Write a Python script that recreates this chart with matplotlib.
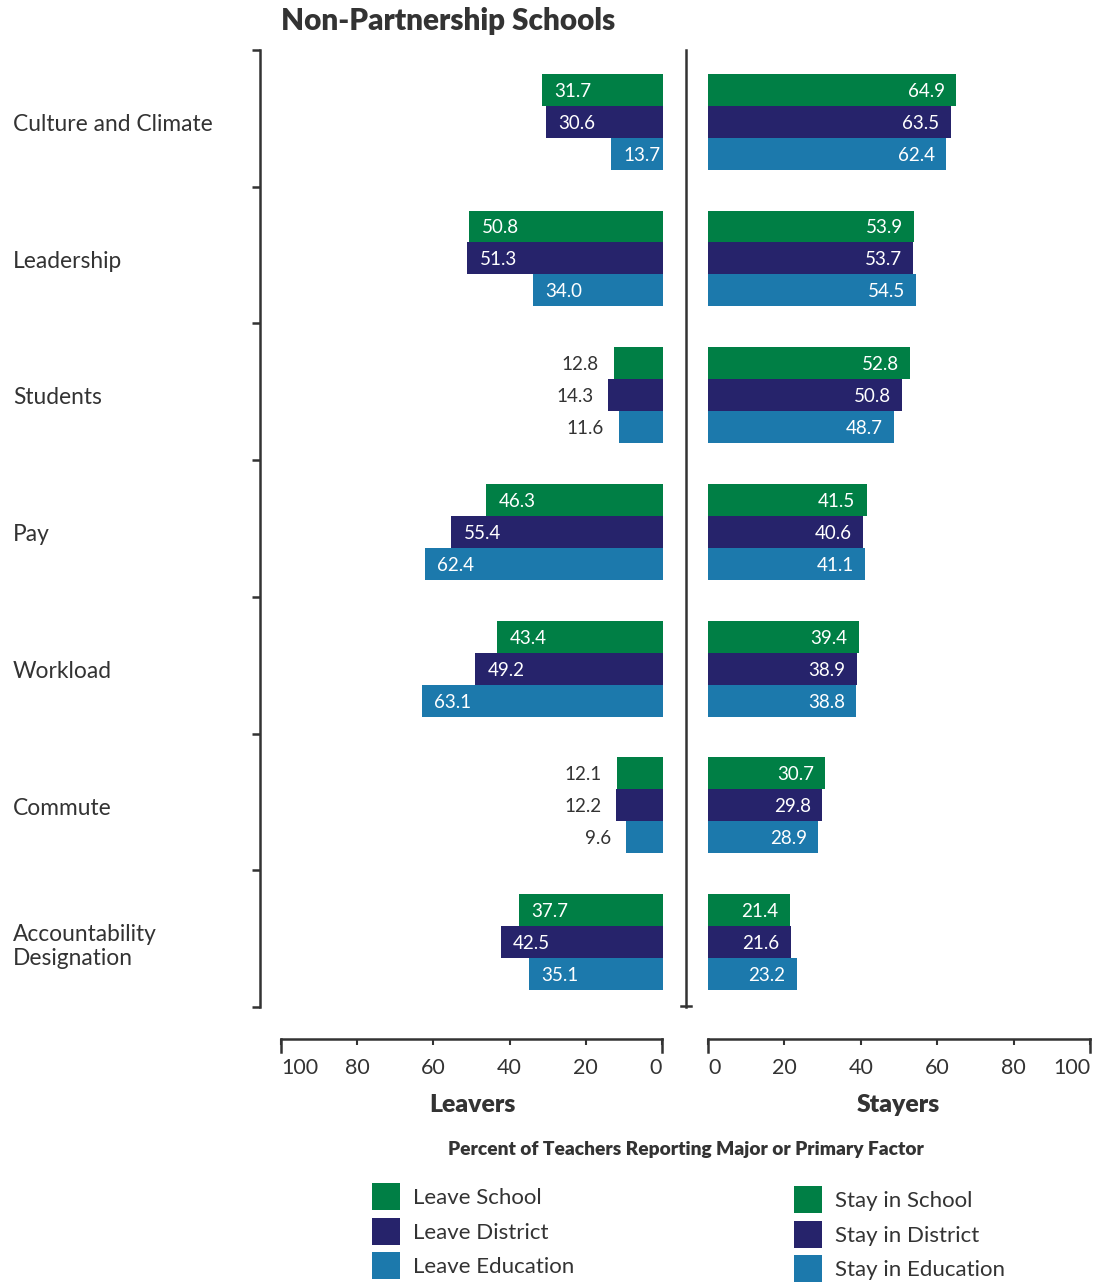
import matplotlib
matplotlib.use("Agg")
import matplotlib.pyplot as plt
import numpy as np
from matplotlib.lines import Line2D

plt.rcParams["font.family"] = ["Lato", "DejaVu Sans"]

categories = [
    "Culture and Climate",
    "Leadership",
    "Students",
    "Pay",
    "Workload",
    "Commute",
    "Accountability\nDesignation",
]

leave_school = [31.7, 50.8, 12.8, 46.3, 43.4, 12.1, 37.7]
leave_district = [30.6, 51.3, 14.3, 55.4, 49.2, 12.2, 42.5]
leave_education = [13.7, 34.0, 11.6, 62.4, 63.1, 9.6, 35.1]

stay_school = [64.9, 53.9, 52.8, 41.5, 39.4, 30.7, 21.4]
stay_district = [63.5, 53.7, 50.8, 40.6, 38.9, 29.8, 21.6]
stay_education = [62.4, 54.5, 48.7, 41.1, 38.8, 28.9, 23.2]

leave_names = ["Leave School", "Leave District", "Leave Education"]
stay_names = ["Stay in School", "Stay in District", "Stay in Education"]

colors = ["#007F45", "#26236B", "#1C79AC"]
ink = "#333333"

W, H = 1095, 1284
fig = plt.figure(figsize=(W / 100, H / 100), dpi=100)


def box(x0, y0, x1, y1):
    # pixel box (top-left origin) -> figure fraction rect
    return [x0 / W, 1 - y1 / H, (x1 - x0) / W, (y1 - y0) / H]


ax_l = fig.add_axes(box(281, 50, 663, 1007))
ax_r = fig.add_axes(box(708, 50, 1090, 1007))

y = np.arange(len(categories))
bh = 0.234
shift = 0.025
offsets = [-bh + shift, shift, bh + shift]

for ax in (ax_l, ax_r):
    ax.set_xlim(0, 100)
    ax.set_ylim(len(categories) - 0.5, -0.5)
    for s in ax.spines.values():
        s.set_visible(False)
    ax.set_xticks([])
    ax.set_yticks([])
ax_l.invert_xaxis()

leave_sets = [leave_school, leave_district, leave_education]
stay_sets = [stay_school, stay_district, stay_education]

# leavers: labels sit inside the bar unless a group has a very short bar
outside = [min(leave_school[i], leave_district[i], leave_education[i]) < 13
           for i in range(len(categories))]

for k, (vals, name) in enumerate(zip(leave_sets, leave_names)):
    bars = ax_l.barh(y + offsets[k], vals, height=bh, color=colors[k],
                     label=name)
    for i, b in enumerate(bars):
        v = vals[i]
        if outside[i]:
            ax_l.annotate(f"{v:.1f}", (v, b.get_y() + bh / 2),
                          xytext=(-11, 0), textcoords="offset points",
                          ha="right", va="center_baseline", fontsize=13.5,
                          color=ink)
        else:
            ax_l.annotate(f"{v:.1f}", (v, b.get_y() + bh / 2),
                          xytext=(9, 0), textcoords="offset points",
                          ha="left", va="center_baseline", fontsize=13.5,
                          color="white")

for k, (vals, name) in enumerate(zip(stay_sets, stay_names)):
    bars = ax_r.barh(y + offsets[k], vals, height=bh, color=colors[k],
                     label=name)
    for i, b in enumerate(bars):
        ax_r.annotate(f"{vals[i]:.1f}", (vals[i], b.get_y() + bh / 2),
                      xytext=(-8, 0), textcoords="offset points",
                      ha="right", va="center_baseline", fontsize=13.5,
                      color="white")

# bracket with category labels on the left
sp = ax_l.spines["left"]
sp.set_visible(True)
sp.set_position(("outward", 15))
sp.set_color(ink)
sp.set_linewidth(1.8)
ax_l.yaxis.set_ticks_position("left")
ax_l.set_yticks(np.arange(-0.5, len(categories)), [""] * (len(categories) + 1))
ax_l.set_yticks(y + 0.03, categories, minor=True)
ax_l.tick_params(axis="y", which="major", length=6, width=1.8, color=ink)
ax_l.tick_params(axis="y", which="minor", length=0, pad=178,
                 labelsize=16.4, labelcolor=ink)
for lab in ax_l.get_yticklabels(minor=True):
    lab.set_ha("left")
    lab.set_multialignment("left")
    lab.set_linespacing(1.22)

# centre divider
fig.add_artist(Line2D([686 / W, 686 / W], [1 - 50 / H, 1 - 1007 / H],
                      color=ink, lw=1.8))
fig.add_artist(Line2D([681 / W, 691 / W], [1 - 1006 / H, 1 - 1006 / H],
                      color=ink, lw=1.8))

# percentage scales under each panel
ax_bl = fig.add_axes(box(281, 1039, 662, 1052))
ax_br = fig.add_axes(box(708, 1039, 1090, 1052))
for ax, inverted in ((ax_bl, True), (ax_br, False)):
    ax.set_xlim(0, 100)
    if inverted:
        ax.invert_xaxis()
    ax.set_yticks([])
    ax.spines["bottom"].set_visible(False)
    for side in ("top", "left", "right"):
        ax.spines[side].set_color(ink)
        ax.spines[side].set_linewidth(1.8)
    ax.patch.set_alpha(0)
    ax.set_xticks(np.arange(0, 101, 20))
    ax.tick_params(axis="x", bottom=False, top=True, direction="in",
                   length=4, width=1.5, color=ink, labelbottom=True,
                   labeltop=False, pad=4, labelsize=15.5, labelcolor=ink)
labs = ax_bl.get_xticklabels()
labs[0].set_ha("right")
labs[-1].set_ha("left")
labs = ax_br.get_xticklabels()
labs[0].set_ha("left")
labs[-1].set_ha("right")

fig.text(281 / W, 1 - 21 / H, "Non-Partnership Schools", fontsize=21.3,
         fontweight="heavy", color=ink, ha="left", va="center")
fig.text(472 / W, 1 - 1105 / H, "Leavers", fontsize=17.8, fontweight="heavy",
         color=ink, ha="center", va="center")
fig.text(898 / W, 1 - 1105 / H, "Stayers", fontsize=17.8, fontweight="heavy",
         color=ink, ha="center", va="center")
fig.text(686 / W, 1 - 1150 / H,
         "Percent of Teachers Reporting Major or Primary Factor",
         fontsize=13.75, fontweight="heavy", color=ink, ha="center",
         va="center")

# legends
h_l, l_l = ax_l.get_legend_handles_labels()
h_r, l_r = ax_r.get_legend_handles_labels()
leg_kw = dict(frameon=False, fontsize=16, handlelength=1.26,
              handleheight=1.49, handletextpad=0.6, labelspacing=0.35,
              borderaxespad=0, borderpad=0, labelcolor=ink)
fig.legend(h_l, l_l, loc="upper left",
           bbox_to_anchor=(372 / W, 1 - 1183 / H), **leg_kw)
fig.legend(h_r, l_r, loc="upper left",
           bbox_to_anchor=(794 / W, 1 - 1186 / H), **leg_kw)

fig.savefig("out.png", dpi=100)
